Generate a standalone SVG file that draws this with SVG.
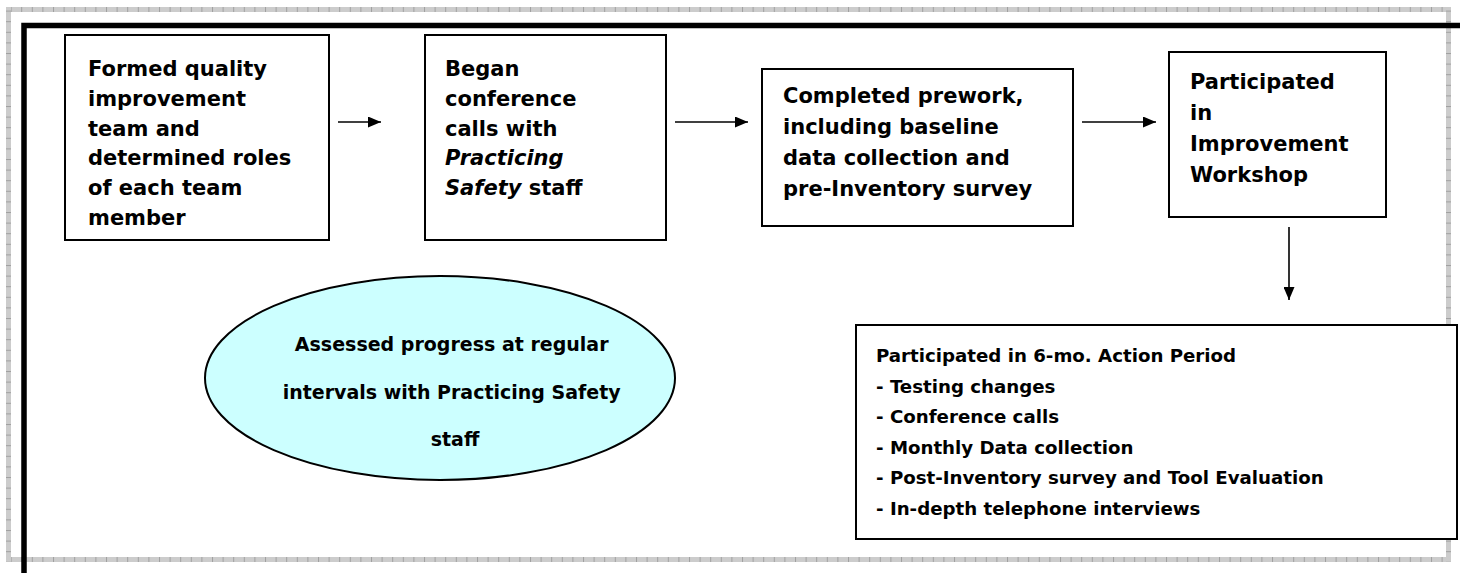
<svg xmlns="http://www.w3.org/2000/svg" width="1460" height="573" viewBox="0 0 1460 573">
  <defs>
    <!-- hatched grey page border: ticks across the band -->
    <pattern id="hatchH" patternUnits="userSpaceOnUse" x="0" y="0" width="10.6" height="6">
      <rect width="10.6" height="6" fill="#cccccc"/>
      <rect x="0" y="0" width="1" height="6" fill="#a0a0a0"/>
    </pattern>
    <pattern id="hatchV" patternUnits="userSpaceOnUse" x="0" y="0" width="6" height="10.6">
      <rect width="6" height="10.6" fill="#cccccc"/>
      <rect x="0" y="0" width="6" height="1" fill="#a0a0a0"/>
    </pattern>
    <marker id="arrowhead" viewBox="0 0 13 11" refX="13" refY="5.5" markerWidth="13" markerHeight="11" markerUnits="userSpaceOnUse" orient="auto">
      <path d="M0,0 L13,5.5 L0,11 Z" fill="#000"/>
    </marker>
    <style>
      .box { fill: #fff; stroke: #000; stroke-width: 2; }
      .oval { fill: #ccffff; stroke: #000; stroke-width: 2; }
      .lbl { font-family: "DejaVu Sans", "Liberation Sans", sans-serif; font-weight: bold; fill: #000; }
      .top { font-size: 21px; }
      .small { font-size: 18.2px; }
      .mid { font-size: 19px; }
      .it { font-style: italic; }
      .conn { stroke: #000; stroke-width: 1.6; fill: none; marker-end: url(#arrowhead); }
    </style>
  </defs>

  <rect width="1460" height="573" fill="#fff"/>

  <!-- page border -->
  <g id="page-border">
    <rect x="6" y="7" width="1445" height="5" fill="url(#hatchH)"/>
    <rect x="6" y="557" width="1445" height="5" fill="url(#hatchH)"/>
    <rect x="6" y="7" width="5" height="555" fill="url(#hatchV)"/>
    <rect x="1446" y="7" width="5" height="555" fill="url(#hatchV)"/>
    <path d="M24,573 V25.5 H1460" fill="none" stroke="#000" stroke-width="5.5"/>
  </g>

  <!-- connectors -->
  <g id="connectors">
    <line class="conn" x1="338" y1="122" x2="381" y2="122"/>
    <line class="conn" x1="675" y1="122" x2="748" y2="122"/>
    <line class="conn" x1="1082" y1="122" x2="1156" y2="122"/>
    <line class="conn" x1="1289" y1="227" x2="1289" y2="300"/>
  </g>

  <g id="form-team">
    <rect class="box" x="65" y="35" width="264" height="205"/>
    <text class="lbl top" x="88">
      <tspan x="88" y="76">Formed quality</tspan>
      <tspan x="88" y="106">improvement</tspan>
      <tspan x="88" y="136">team and</tspan>
      <tspan x="88" y="165">determined roles</tspan>
      <tspan x="88" y="195">of each team</tspan>
      <tspan x="88" y="225">member</tspan>
    </text>
  </g>

  <g id="conference-calls">
    <rect class="box" x="425" y="35" width="241" height="205"/>
    <text class="lbl top">
      <tspan x="445" y="76">Began</tspan>
      <tspan x="445" y="106">conference</tspan>
      <tspan x="445" y="136">calls with</tspan>
      <tspan x="445" y="165" class="it">Practicing</tspan>
      <tspan x="445" y="195" class="it">Safety</tspan><tspan> staff</tspan>
    </text>
  </g>

  <g id="prework">
    <rect class="box" x="762" y="69" width="311" height="157"/>
    <text class="lbl top">
      <tspan x="783" y="103">Completed prework,</tspan>
      <tspan x="783" y="134">including baseline</tspan>
      <tspan x="783" y="165">data collection and</tspan>
      <tspan x="783" y="196">pre-Inventory survey</tspan>
    </text>
  </g>

  <g id="workshop">
    <rect class="box" x="1169" y="52" width="217" height="165"/>
    <text class="lbl top">
      <tspan x="1190" y="89">Participated</tspan>
      <tspan x="1190" y="120">in</tspan>
      <tspan x="1190" y="151">Improvement</tspan>
      <tspan x="1190" y="182">Workshop</tspan>
    </text>
  </g>

  <g id="assess-progress">
    <ellipse class="oval" cx="440" cy="378" rx="235" ry="102"/>
    <text class="lbl mid" text-anchor="middle">
      <tspan x="455" y="351">Assessed progress at regular</tspan>
      <tspan x="455" y="399">intervals with Practicing Safety</tspan>
      <tspan x="455" y="446">staff</tspan>
    </text>
  </g>

  <g id="action-period">
    <rect class="box" x="856" y="325" width="601" height="214"/>
    <text class="lbl small">
      <tspan x="876" y="362">Participated in 6-mo. Action Period</tspan>
      <tspan x="876" y="392.6">- Testing changes</tspan>
      <tspan x="876" y="423.2">- Conference calls</tspan>
      <tspan x="876" y="453.8">- Monthly Data collection</tspan>
      <tspan x="876" y="484.4">- Post-Inventory survey and Tool Evaluation</tspan>
      <tspan x="876" y="515">- In-depth telephone interviews</tspan>
    </text>
  </g>
</svg>
